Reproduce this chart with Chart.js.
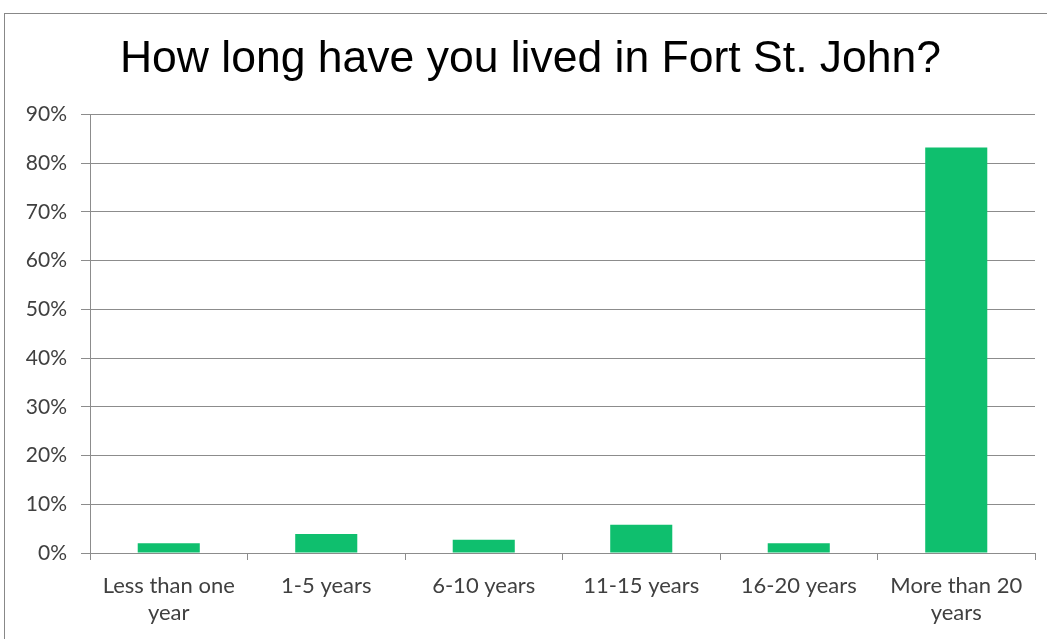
<!DOCTYPE html>
<html>
<head>
<meta charset="utf-8">
<script src="https://cdn.jsdelivr.net/npm/chart.js@4/dist/chart.umd.min.js"></script>
<style>
  html, body { margin: 0; padding: 0; background: #fff; }
  #wrap { position: relative; width: 1047px; height: 639px; overflow: hidden; }
  #frame { position: absolute; left: 4px; top: 13px; width: 1060px; height: 640px; border: 1px solid #888; box-sizing: border-box; }
  canvas { position: absolute; left: 0; top: 0; }
</style>
</head>
<body>
<div id="wrap">
  <div id="frame"></div>
  <canvas id="chart" width="1047" height="639"></canvas>
</div>
<script>
// Data
const categories = [
  ['Less than one', 'year'],
  '1-5 years',
  '6-10 years',
  '11-15 years',
  '16-20 years',
  ['More than 20', 'years']
];
const shares = [2.0, 3.9, 2.7, 5.8, 2.0, 83.2];
const yTicks = [0, 10, 20, 30, 40, 50, 60, 70, 80, 90];

const GRID = '#8c8c8c';
const TEXT = '#404040';

const ctx = document.getElementById('chart').getContext('2d');
new Chart(ctx, {
  type: 'bar',
  data: {
    labels: categories,
    datasets: [{
      data: shares,
      backgroundColor: '#0fbf6e',
      borderWidth: 0,
      barPercentage: 0.394,
      categoryPercentage: 1
    }]
  },
  options: {
    responsive: false,
    animation: false,
    layout: { padding: { left: 26, right: 12, top: 33, bottom: 0 } },
    plugins: {
      legend: { display: false },
      tooltip: { enabled: false },
      title: {
        display: true,
        text: 'How long have you lived in Fort St. John?',
        color: '#000',
        font: { family: 'Liberation Sans, Arial, sans-serif', size: 44.5, weight: 'normal', lineHeight: 1.2 },
        padding: { top: 0, bottom: 28 }
      }
    },
    scales: {
      x: {
        grid: { display: true, drawOnChartArea: false, drawTicks: true, tickLength: 7, color: GRID, offset: true },
        border: { display: true, color: GRID, width: 1 },
        ticks: {
          color: TEXT,
          font: { family: 'Lato, sans-serif', size: 22, lineHeight: 1.25 },
          padding: 12,
          maxRotation: 0,
          autoSkip: false
        }
      },
      y: {
        min: 0,
        max: 90,
        afterBuildTicks: (axis) => { axis.ticks = yTicks.map(v => ({ value: v })); },
        afterFit: (axis) => { axis.width = 64; },
        grid: { color: GRID, lineWidth: 1, tickLength: 9 },
        border: { display: true, color: GRID, width: 1 },
        ticks: {
          color: TEXT,
          font: { family: 'Lato, sans-serif', size: 21 },
          padding: 14,
          callback: (v) => v + '%'
        }
      }
    }
  }
});
</script>
</body>
</html>
